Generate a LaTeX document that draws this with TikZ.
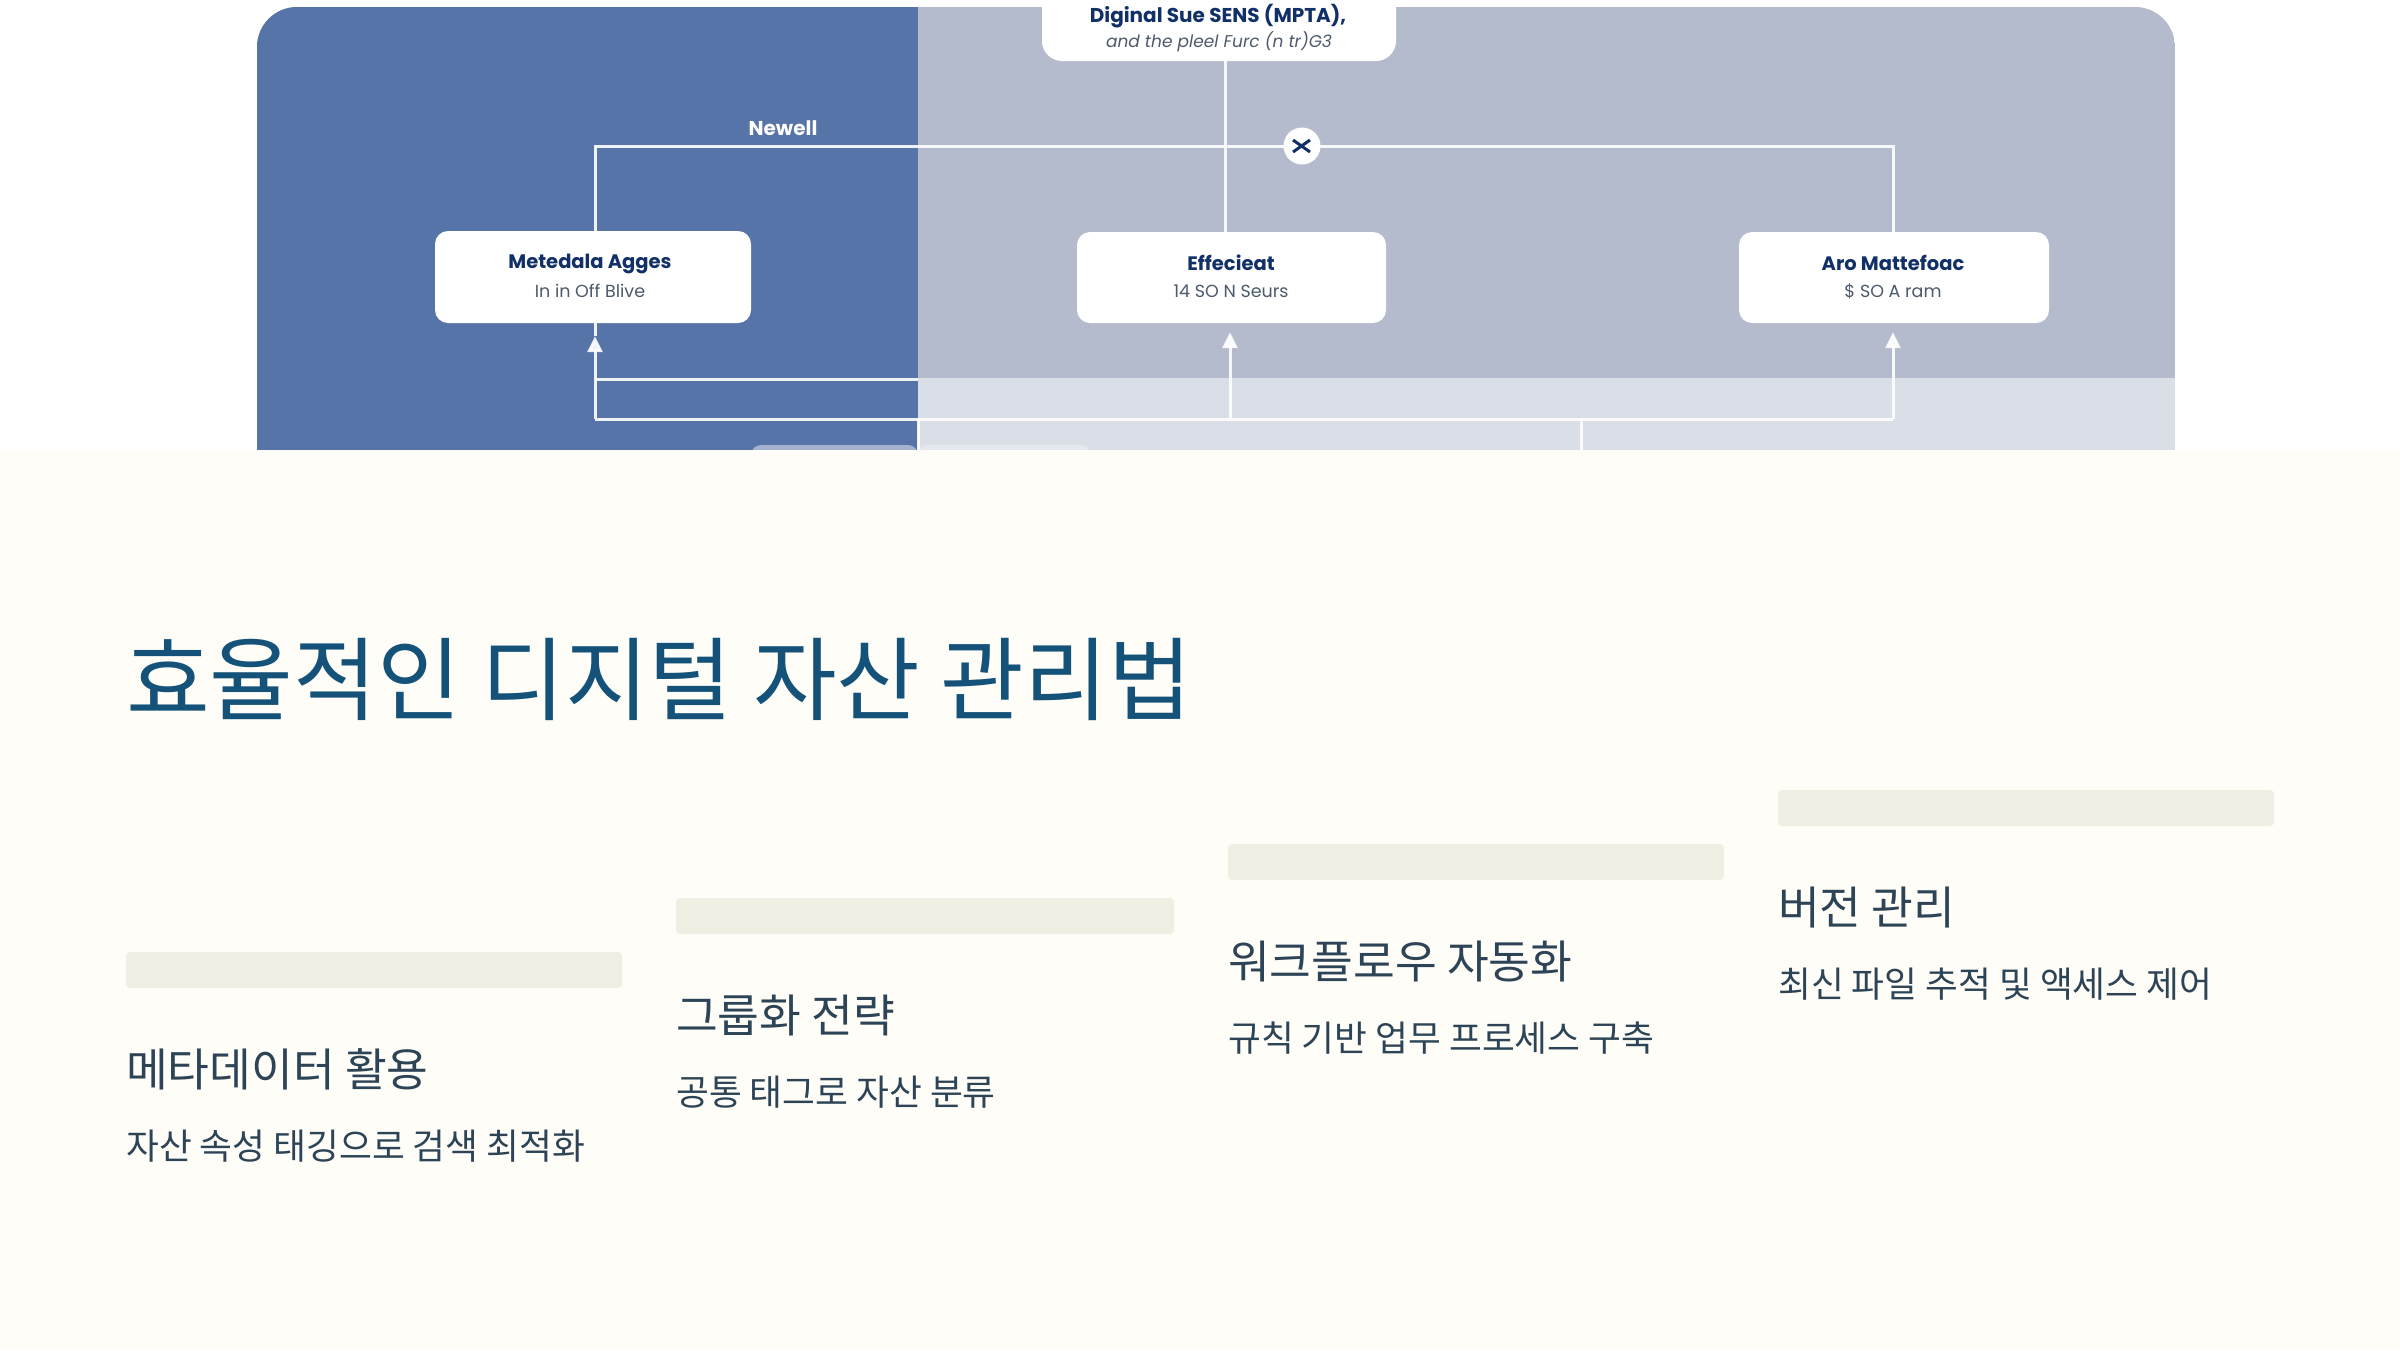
\documentclass[tikz,border=0pt]{standalone}
\usepackage{fontspec}
\setmainfont{Poppins}
\newfontfamily\krfont{Noto Sans CJK KR}
\usetikzlibrary{arrows.meta}
\definecolor{pageBg}{HTML}{FFFDF7}
\definecolor{panelBlue}{HTML}{5674A8}
\definecolor{panelGrey}{HTML}{B4BBCD}
\definecolor{bandGrey}{HTML}{DADEE7}
\definecolor{navyText}{HTML}{123068}
\definecolor{subText}{HTML}{4C5A6C}
\definecolor{titleBlue}{HTML}{14527A}
\definecolor{bodyText}{HTML}{2D4457}
\definecolor{barFill}{HTML}{F1EEE4}
\tikzset{
  card/.style={fill=white,rounded corners=13pt,draw=none},
  wire/.style={draw=white,line width=3pt,opacity=.9},
  arrowwire/.style={wire,-{Triangle[length=16pt,width=15pt]}},
  cardTitle/.style={inner sep=0pt,font=\fontsize{19.5}{22}\selectfont\bfseries,text=navyText},
  cardSub/.style={inner sep=0pt,font=\fontsize{17.5}{22}\selectfont,text=subText},
  mainTitle/.style={anchor=base west,inner sep=0pt,font=\krfont\fontsize{91}{100}\selectfont,text=titleBlue},
  itemHead/.style={anchor=base west,inner sep=0pt,font=\krfont\fontsize{45.4}{50}\selectfont,text=bodyText},
  itemDesc/.style={anchor=base west,inner sep=0pt,font=\krfont\fontsize{35.7}{40}\selectfont,text=bodyText},
  itemBar/.style={fill=barFill,rounded corners=4pt,draw=none}
}
\begin{document}
\begin{tikzpicture}[x=1pt,y=-1pt]
\useasboundingbox (0,0) rectangle (2400,1350);
\fill[white] (0,0) rectangle (2400,1350);
% panel
\begin{scope}
  \clip[rounded corners=40pt] (257,7) rectangle (2175,520);
  \fill[panelGrey] (257,0) rectangle (2175,520);
  \fill[bandGrey] (918,378) rectangle (2175,520);
  \fill[panelBlue] (257,0) rectangle (918,520);
\end{scope}
% coordinates
\coordinate (busL) at (595,146);
\coordinate (busR) at (1893,146);
\coordinate (lowL) at (595,419);
\coordinate (lowR) at (1893,419);
\coordinate (midJoin) at (918,379);
\coordinate (midL) at (595,379);
\coordinate (lowMid) at (1230,419);
\coordinate (dropA) at (918,419);
\coordinate (dropAend) at (918,460);
\coordinate (dropB) at (1581,419);
\coordinate (dropBend) at (1581,460);
% cards
\fill[card,rounded corners=20pt] (1042,-30) rectangle (1396,61);
\node[inner sep=0pt] (topA) at (1218,16) {\fontsize{20}{22}\selectfont\bfseries\color{navyText}Diginal Sue SENS (MPTA),};
\node[inner sep=0pt] (topB) at (1219,42) {\fontsize{17}{22}\selectfont\itshape\color{subText}and the pleel Furc (n tr)G3};
\coordinate (topBottom) at (1225,61);
\node[card,minimum width=316pt,minimum height=92pt,inner sep=0pt] (cardA) at (593,277) {};
\node[card,minimum width=309pt,minimum height=91pt,inner sep=0pt] (cardB) at (1231.5,277.5) {};
\node[card,minimum width=310pt,minimum height=91pt,inner sep=0pt] (cardC) at (1894,277.5) {};
% wires
\draw[wire] (cardA.north -| busL) -- (busL) -- (busR) -- (cardC.north -| busR);
\draw[wire] (topBottom) -- (topBottom |- cardB.north);
\coordinate (tipA) at ([yshift=-13pt]lowL |- cardA.south);
\draw[arrowwire] (lowL) -- (tipA);
\draw[wire] (tipA) -- (lowL |- cardA.south);
\draw[arrowwire] (lowMid) -- ([yshift=-9pt]lowMid |- cardB.south);
\draw[arrowwire] (lowR) -- ([yshift=-9pt]lowR |- cardC.south);
\draw[wire] (lowL) -- (lowR);
\draw[wire] (midL) -- (midJoin);
\draw[wire] (dropA) -- (dropAend);
\draw[wire] (dropB) -- (dropBend);
% switch
\node[circle,fill=white,minimum size=37pt,inner sep=0pt] (switch) at (1302,146) {};
\draw[navyText,line width=3pt] ([shift={(-9,-6)}]switch.center) -- ([shift={(8,6)}]switch.center);
\draw[navyText,line width=3pt] ([shift={(-9,6)}]switch.center) -- ([shift={(8,-6)}]switch.center);
% labels
\node[inner sep=0pt,text=white,font=\fontsize{20}{22}\selectfont\bfseries] (newell) at (783,128) {Newell};
\node[cardTitle] (aT) at (590,264) {Metedala Agges};
\node[cardSub] (aS) at (590,291) {In in Off Blive};
\node[cardTitle] (bT) at (1231,263) {Effecieat};
\node[cardSub] (bS) at (1231,291) {14 SO N Seurs};
\node[cardTitle] (cT) at (1893,263) {Aro Mattefoac};
\node[cardSub] (cS) at (1893,291) {\$ SO A ram};
% lower card peeking
\fill[bandGrey!70!white,rounded corners=10pt] (918,445) rectangle (1091,480);
\fill[panelBlue!55!white,rounded corners=10pt] (751,445) rectangle (918,480);
% page
\fill[pageBg] (0,450) rectangle (2400,1350);
\node[mainTitle] (title) at (126,713) {효율적인 디지털 자산 관리법};
\fill[itemBar] (126,952) rectangle (622,988);
\fill[itemBar] (676,898) rectangle (1174,934);
\fill[itemBar] (1228,844) rectangle (1724,880);
\fill[itemBar] (1778,790) rectangle (2274,826);
\node[itemHead] (h1) at (126,1086.5) {메타데이터 활용};
\node[itemDesc] (d1) at (126,1159) {자산 속성 태깅으로 검색 최적화};
\node[itemHead] (h2) at (676,1032.5) {그룹화 전략};
\node[itemDesc] (d2) at (676,1105) {공통 태그로 자산 분류};
\node[itemHead] (h3) at (1228,978.5) {워크플로우 자동화};
\node[itemDesc] (d3) at (1228,1051) {규칙 기반 업무 프로세스 구축};
\node[itemHead] (h4) at (1778,924.5) {버전 관리};
\node[itemDesc] (d4) at (1778,997) {최신 파일 추적 및 액세스 제어};
\end{tikzpicture}
\end{document}
